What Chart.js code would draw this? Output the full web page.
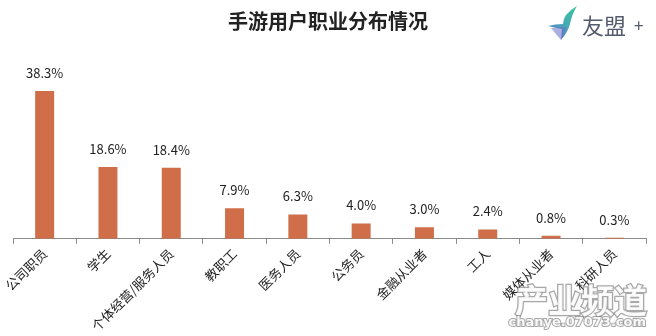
<!DOCTYPE html>
<html>
<head>
<meta charset="utf-8">
<script src="https://cdn.jsdelivr.net/npm/chart.js@4/dist/chart.umd.min.js"></script>
<style>
  html, body { margin: 0; padding: 0; background: #fff; }
  #wrap { width: 656px; height: 336px; }
</style>
</head>
<body>
<div id="wrap"><canvas id="chart" width="656" height="336"></canvas></div>
<script>
// 职业类别与占比（%）
const categories = ['公司职员', '学生', '个体经营/服务人员', '教职工', '医务人员', '公务员', '金融从业者', '工人', '媒体从业者', '科研人员'];
const shares = [38.3, 18.6, 18.4, 7.9, 6.3, 4.0, 3.0, 2.4, 0.8, 0.3];

const FONT = '"Noto Sans CJK SC", "Noto Sans", sans-serif';
const BAR_COLOR = '#D06E4A';

// 标题、Logo、柱顶数值、水印
const decorPlugin = {
    id: 'decor',
    afterDatasetsDraw(chart) {
        const ctx = chart.ctx;
        const meta = chart.getDatasetMeta(0);
        ctx.save();
        ctx.fillStyle = '#222';
        ctx.font = '13px ' + FONT;
        ctx.textAlign = 'center';
        ctx.textBaseline = 'middle';
        meta.data.forEach((bar, i) => {
            ctx.fillText(shares[i].toFixed(1) + '%', bar.x, bar.y - 18);
        });
        ctx.restore();
    },
    afterDraw(chart) {
        const ctx = chart.ctx;
        ctx.save();
        // 标题
        ctx.fillStyle = '#222';
        ctx.font = 'bold 20px ' + FONT;
        ctx.textAlign = 'center';
        ctx.textBaseline = 'middle';
        ctx.fillText('手游用户职业分布情况', 328, 21);

        // Logo 图形：羽毛
        const g = ctx.createLinearGradient(576, 6, 556, 40);
        g.addColorStop(0, '#3cc59a');
        g.addColorStop(0.55, '#45a9b5');
        g.addColorStop(1, '#6a72c8');
        ctx.fillStyle = g;
        ctx.beginPath();
        ctx.moveTo(577, 6);
        ctx.quadraticCurveTo(563, 14, 563, 24);
        ctx.quadraticCurveTo(555, 24, 548, 26);
        ctx.quadraticCurveTo(556, 28, 562, 29);
        ctx.lineTo(561, 40);
        ctx.quadraticCurveTo(568, 32, 570, 24);
        ctx.quadraticCurveTo(572, 14, 577, 6);
        ctx.closePath();
        ctx.fill();
        ctx.fillStyle = 'rgba(100,110,200,0.55)';
        ctx.beginPath();
        ctx.moveTo(551, 28);
        ctx.lineTo(566, 27);
        ctx.lineTo(561, 40);
        ctx.closePath();
        ctx.fill();

        // Logo 文字
        ctx.fillStyle = '#555b6e';
        ctx.font = '22px ' + FONT;
        ctx.textAlign = 'left';
        ctx.fillText('友盟', 582, 26);
        ctx.font = '17px ' + FONT;
        ctx.fillText('+', 634, 26);

        // 水印
        ctx.textAlign = 'right';
        ctx.textBaseline = 'alphabetic';
        ctx.strokeStyle = 'rgba(110,110,110,0.6)';
        ctx.fillStyle = 'rgba(255,255,255,0.92)';
        ctx.font = 'bold 33px ' + FONT;
        ctx.lineWidth = 2.5;
        ctx.strokeText('产业频道', 647, 313);
        ctx.fillText('产业频道', 647, 313);
        ctx.font = 'bold 13px "DejaVu Sans", sans-serif';
        ctx.lineWidth = 2;
        ctx.strokeText('chanye.07073.com', 646, 326);
        ctx.fillText('chanye.07073.com', 646, 326);
        ctx.restore();
    }
};

new Chart(document.getElementById('chart'), {
    type: 'bar',
    data: {
        labels: categories,
        datasets: [{
            data: shares,
            backgroundColor: BAR_COLOR,
            borderWidth: 0,
            categoryPercentage: 1.0,
            barPercentage: 0.3
        }]
    },
    options: {
        responsive: false,
        animation: false,
        layout: {
            padding: { top: 65, left: 13, right: 10, bottom: 0 }
        },
        plugins: {
            legend: { display: false },
            tooltip: { enabled: false }
        },
        scales: {
            x: {
                offset: true,
                grid: {
                    offset: true,
                    drawOnChartArea: false,
                    drawTicks: true,
                    tickLength: 5,
                    color: '#8a8a8a'
                },
                border: { display: true, color: '#8a8a8a', width: 1 },
                ticks: {
                    color: '#222',
                    font: { family: FONT, size: 13 },
                    maxRotation: 45,
                    minRotation: 45,
                    autoSkip: false,
                    padding: 2
                }
            },
            y: {
                display: false,
                min: 0,
                max: 45
            }
        }
    },
    plugins: [decorPlugin]
});
</script>
</body>
</html>
